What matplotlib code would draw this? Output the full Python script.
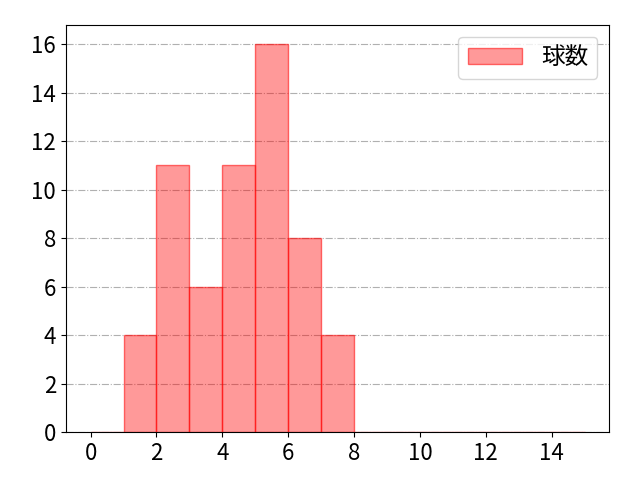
import matplotlib
matplotlib.use("Agg")
import matplotlib.pyplot as plt
from matplotlib.ticker import MultipleLocator

plt.rcParams['font.family'] = ['Noto Sans CJK JP', 'DejaVu Sans']
plt.rcParams['font.size'] = 16

bin_edges = list(range(0, 16))
counts = [0, 4, 11, 6, 11, 16, 8, 4, 0, 0, 0, 0, 0, 0, 0]
label = "球数"

fig, ax = plt.subplots(figsize=(6.4, 4.8), dpi=100)
ax.hist(bin_edges[:-1], bins=bin_edges, weights=counts,
        facecolor=(1, 0, 0, 0.4), edgecolor=(1, 0, 0, 0.55), linewidth=1,
        label=label)
ax.set_axisbelow(True)
ax.yaxis.grid(True, linestyle='-.', color='#b0b0b0', linewidth=0.8)
ax.xaxis.set_major_locator(MultipleLocator(2))
ax.yaxis.set_major_locator(MultipleLocator(2))
ax.legend(loc='upper right', fontsize=17, handlelength=2.3)
fig.subplots_adjust(left=0.103, right=0.952, top=0.948, bottom=0.1)
fig.savefig("out.png", dpi=100)
